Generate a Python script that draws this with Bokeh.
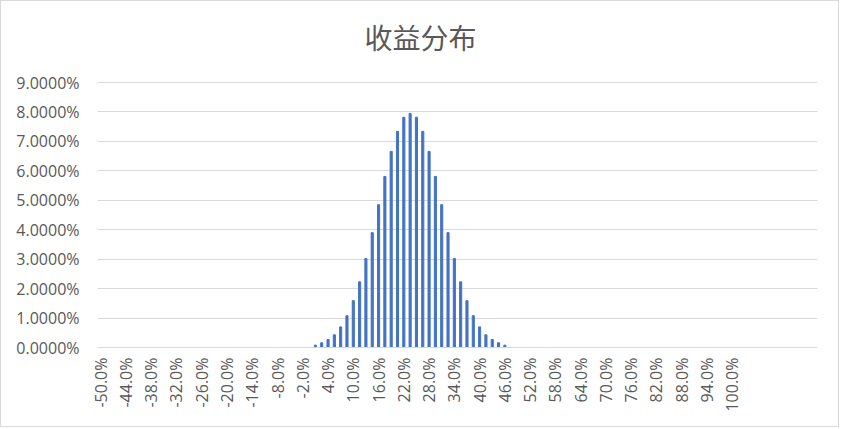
import math
from bokeh.plotting import figure
from bokeh.models import FixedTicker, NumeralTickFormatter, Range1d, Label
from bokeh.embed import file_html
from bokeh.resources import INLINE

# ---- data ----
title_text = "收益分布"

# return buckets (in %) that carry a visible bar
returns = [1.0, 2.5, 4.0, 5.5, 7.0, 8.5, 10.0, 11.5, 13.0, 14.5, 16.0, 17.5, 19.0, 20.5,
           22.0, 23.5, 25.0, 26.5, 28.0, 29.5, 31.0, 32.5, 34.0, 35.5, 37.0, 38.5, 40.0,
           41.5, 43.0, 44.5, 46.0]
# probability of each bucket (fraction)
probs = [0.0008, 0.0016, 0.0027, 0.0043, 0.0070, 0.0108, 0.0159, 0.0223, 0.0302, 0.0390,
         0.0485, 0.0581, 0.0666, 0.0734, 0.0782, 0.0795, 0.0782, 0.0734, 0.0666, 0.0581,
         0.0485, 0.0390, 0.0302, 0.0223, 0.0159, 0.0108, 0.0070, 0.0043, 0.0027, 0.0016,
         0.0008]

# category axis: buckets from -50% in steps of 1.5%, labelled every 4th bucket
x_tick_values = [-50, -44, -38, -32, -26, -20, -14, -8, -2, 4, 10, 16, 22, 28, 34, 40, 46,
                 52, 58, 64, 70, 76, 82, 88, 94, 100]
x_tick_labels = ["-50.0%", "-44.0%", "-38.0%", "-32.0%", "-26.0%", "-20.0%", "-14.0%",
                 "-8.0%", "-2.0%", "4.0%", "10.0%", "16.0%", "22.0%", "28.0%", "34.0%",
                 "40.0%", "46.0%", "52.0%", "58.0%", "64.0%", "70.0%", "76.0%", "82.0%",
                 "88.0%", "94.0%", "100.0%"]
y_tick_values = [0.0, 0.01, 0.02, 0.03, 0.04, 0.05, 0.06, 0.07, 0.08, 0.09]

bucket_step = 1.5
n_buckets = 114

GRID = "#D9D9D9"
TEXT = "#595959"
BAR = "#4472C4"
FONT = "Open Sans"

# ---- layout (pixels) ----
W, H = 839, 427
border_left, border_right, border_bottom = 96, 23, 81
axis_top_px = 81            # where the 9% gridline sits, from the top
title_center_px = (419, 35)  # centre of the title, from the top-left

frame_w = W - border_left - border_right
frame_h = H - border_bottom   # frame reaches the top edge; title sits inside it

x_start = x_tick_values[0] - bucket_step / 2
x_end = x_start + n_buckets * bucket_step
y_max = y_tick_values[-1]
y_end = y_max * frame_h / (frame_h - axis_top_px)

p = figure(width=W, height=H, output_backend="svg", toolbar_location=None,
           x_range=Range1d(x_start, x_end), y_range=Range1d(0, y_end),
           min_border_left=border_left, min_border_right=border_right,
           min_border_top=0, min_border_bottom=border_bottom)
p.styles = {"border": "1px solid #D9D9D9"}
p.background_fill_color = "white"
p.border_fill_color = "white"
p.outline_line_color = None

p.vbar(x=returns, top=probs, width=0.5, color=BAR)

# title, centred on the whole chart
tx = x_start + (title_center_px[0] - border_left) / frame_w * (x_end - x_start)
ty = y_end * (frame_h - title_center_px[1]) / frame_h
p.add_layout(Label(x=tx, y=ty, text=title_text, text_align="center",
                   text_baseline="middle", text_font="Noto Sans CJK SC",
                   text_font_size="28px", text_color=TEXT))

# y axis
p.yaxis.ticker = FixedTicker(ticks=y_tick_values)
p.yaxis.formatter = NumeralTickFormatter(format="0.0000%")
p.yaxis.axis_line_color = None
p.yaxis.major_tick_line_color = None
p.yaxis.minor_tick_line_color = None
p.yaxis.major_tick_out = 0
p.yaxis.major_label_standoff = 18
p.yaxis.major_label_text_font = FONT
p.yaxis.major_label_text_font_size = "16px"
p.yaxis.major_label_text_color = TEXT

# x axis
p.xaxis.ticker = FixedTicker(ticks=x_tick_values)
p.xaxis.major_label_overrides = {v: s for v, s in zip(x_tick_values, x_tick_labels)}
p.xaxis.major_label_orientation = math.pi / 2
p.xaxis.axis_line_color = GRID
p.xaxis.major_tick_line_color = None
p.xaxis.minor_tick_line_color = None
p.xaxis.major_tick_out = 0
p.xaxis.major_label_standoff = 10
p.xaxis.major_label_text_font = FONT
p.xaxis.major_label_text_font_size = "16px"
p.xaxis.major_label_text_color = TEXT

p.xgrid.grid_line_color = None
p.ygrid.grid_line_color = GRID
p.ygrid.grid_line_width = 1

open("out.html", "w").write(file_html(p, INLINE))
